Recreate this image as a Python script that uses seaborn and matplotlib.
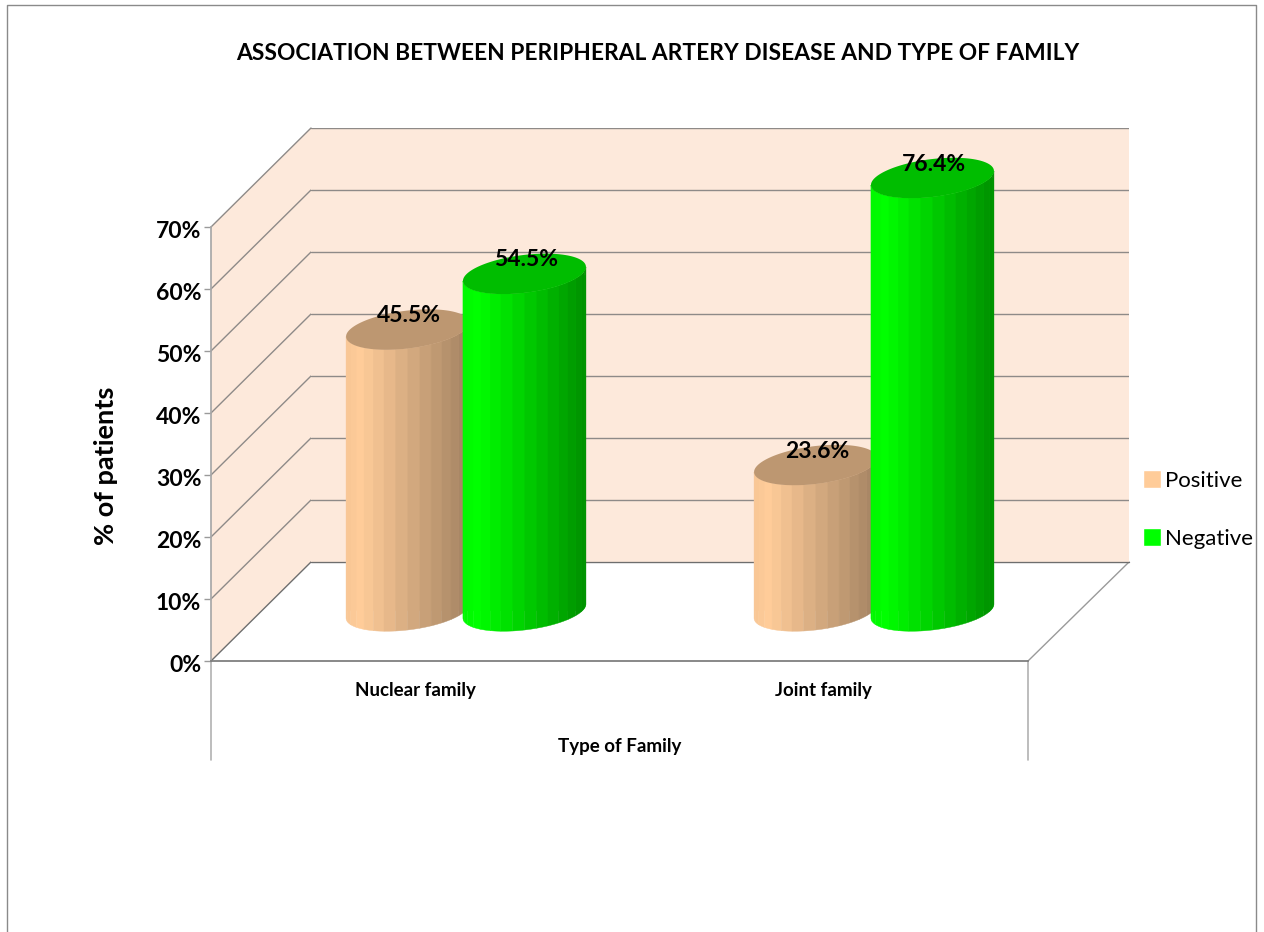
import numpy as np
import pandas as pd
import matplotlib
matplotlib.use("Agg")
import matplotlib.pyplot as plt
from matplotlib.colors import to_rgb
from matplotlib.patches import Polygon
from matplotlib.transforms import ScaledTranslation
import seaborn as sns

categories = ["Nuclear family", "Joint family"]
series_names = ["Positive", "Negative"]
positive = [45.5, 23.6]
negative = [54.5, 76.4]
y_ticks = [0, 10, 20, 30, 40, 50, 60, 70]
title = "ASSOCIATION BETWEEN PERIPHERAL ARTERY DISEASE AND TYPE OF FAMILY"
colors = {"Positive": "#FFCC99", "Negative": "#00FF00"}

W, H = 1264, 932
sns.set_theme(style="white")
plt.rcParams["font.family"] = ["Lato", "Liberation Sans", "DejaVu Sans"]
WALL = "#FDE9DB"
GRID = "#8E8A88"

fig = plt.figure(figsize=(W / 100, H / 100), dpi=100, facecolor="white")


def px_axes(left, right, top, bottom, **kw):
    return fig.add_axes([left / W, 1 - bottom / H, (right - left) / W, (bottom - top) / H], **kw)


# page layer in pixel coordinates: frame of the picture
ax_bg = px_axes(0, W, 0, H)
ax_bg.set_xlim(0, W)
ax_bg.set_ylim(H, 0)
ax_bg.set_axis_off()
ax_bg.plot([7, 7, 1256, 1256], [H, 5, 5, H], color="#8A8A8A", lw=1.0, clip_on=False)

# three parallel planes sharing one scale: back wall, bar plane, front axis
ax_back = px_axes(311, 1129, 128, 562, facecolor=WALL)
ax_front = px_axes(211, 1028, 227, 661, facecolor="none")
ax_bar = px_axes(262, 1078, 178, 611, facecolor="none")
for a in (ax_back, ax_front, ax_bar):
    a.set_ylim(0, 70)
    a.set_xlim(-0.5, 1.5)

# back wall
ax_back.set_yticks(y_ticks)
ax_back.set_xticks([])
ax_back.tick_params(left=False, labelleft=False)
ax_back.grid(axis="y", color=GRID, lw=1.0)
sns.despine(ax=ax_back, left=True, bottom=True, right=True, top=True)


def to_bg(ax, x, y):
    return ax_bg.transData.inverted().transform(ax.transData.transform((x, y)))


# left wall, floor edges
corners = [to_bg(ax_front, -0.5, 0), to_bg(ax_back, -0.5, 0), to_bg(ax_back, -0.5, 70), to_bg(ax_front, -0.5, 70)]
ax_bg.add_patch(Polygon(corners, closed=True, facecolor=WALL, edgecolor="none"))
for t in y_ticks:
    a0, b0 = to_bg(ax_front, -0.5, t), to_bg(ax_back, -0.5, t)
    ax_bg.plot([a0[0], b0[0]], [a0[1], b0[1]], color="#6E6E6E" if t == 0 else GRID, lw=1.0)
r0, r1 = to_bg(ax_front, 1.5, 0), to_bg(ax_back, 1.5, 0)
ax_bg.plot([r0[0], r1[0]], [r0[1], r1[1]], color="#9A9A9A", lw=1.0)
for x_end in (-0.5, 1.5):
    p = to_bg(ax_front, x_end, 0)
    ax_bg.plot([p[0], p[0]], [p[1], 760], color="#B2B2B2", lw=1.2)
b0, b1 = to_bg(ax_back, -0.5, 0), to_bg(ax_back, 1.5, 0)
ax_bg.plot([b0[0], b1[0]], [b0[1], b1[1]], color="#6E6E6E", lw=1.0)

# front axis
ax_front.set_yticks(y_ticks)
ax_front.set_yticklabels([f"{t}%" for t in y_ticks], fontsize=16.5, fontweight="bold", color="black", va="center")
ax_front.set_xticks([0, 1])
ax_front.set_xticklabels(categories, fontsize=13.5, fontweight="bold", color="black")
ax_front.tick_params(axis="y", left=True, length=5, width=1, color="#9A9A9A", pad=2)
ax_front.tick_params(axis="x", bottom=False, pad=9)
nudge = ScaledTranslation(0, -4 / 100, fig.dpi_scale_trans)
for lab in ax_front.get_yticklabels():
    lab.set_transform(lab.get_transform() + nudge)
for s in ("top", "right"):
    ax_front.spines[s].set_visible(False)
ax_front.spines["left"].set_color("#A8A8A8")
ax_front.spines["bottom"].set_color("#7A7A7A")
ax_front.set_xlabel("Type of Family", fontsize=13.5, fontweight="bold", color="black", labelpad=28)
ax_front.set_ylabel("% of patients", fontsize=19.5, fontweight="bold", color="black", labelpad=27, y=0.45)

# bars
df = pd.DataFrame({
    "family": categories * 2,
    "result": [series_names[0]] * 2 + [series_names[1]] * 2,
    "value": positive + negative,
})
sns.barplot(data=df, x="family", y="value", hue="result", hue_order=series_names, palette=colors,
            width=0.573, gap=0, saturation=1, errorbar=None, ax=ax_bar, legend=True)
ax_bar.set_ylim(0, 70)
ax_bar.set_xlim(-0.5, 1.5)

px_x = 2.0 / (1078 - 262)   # data units per pixel
px_y = 70.0 / (611 - 178)
half_w = 61.5 * px_x
ry = 19 * px_y
shear = 7 * px_y
n_bands = 16


def shade(u, dark):
    return np.interp(u, [0.0, 0.12, 1.0], [0.97, 1.0, dark])


for idx, (name, container) in enumerate(zip(series_names, ax_bar.containers)):
    base = np.array(to_rgb(colors[name]))
    dark = 0.64 if name == "Positive" else 0.56
    for patch, val in zip(container.patches, positive if idx == 0 else negative):
        xc = patch.get_x() + patch.get_width() / 2
        patch.set_x(xc - half_w)
        patch.set_width(2 * half_w)
        top = min(patch.get_height(), ax_bar.get_ylim()[1])
        z = 3 + idx * 2

        ts = np.linspace(np.pi, 2 * np.pi, 200)
        xs = xc + half_w * np.cos(ts)
        low = shear * np.cos(ts) + ry * np.sin(ts)
        outline = np.r_[np.c_[xs, low], np.c_[xs[::-1], top + low[::-1]]]
        patch.set_zorder(z)
        patch.set_clip_path(Polygon(outline, transform=ax_bar.transData))
        patch.set_clip_on(True)

        edges = np.linspace(np.pi, 2 * np.pi, n_bands + 1)
        for t0, t1 in zip(edges[:-1], edges[1:]):
            t = np.linspace(t0, t1, 8)
            x = xc + half_w * np.cos(t)
            y = shear * np.cos(t) + ry * np.sin(t)
            u = (np.cos((t0 + t1) / 2) + 1) / 2
            ax_bar.fill(np.r_[x, x[::-1]], np.r_[y, top + y[::-1]], color=base * shade(u, dark),
                        lw=0.3, zorder=z + 0.2, clip_on=False)

        tt = np.linspace(0, 2 * np.pi, 120)
        ax_bar.fill(xc + half_w * np.cos(tt), top + shear * np.cos(tt) + ry * np.sin(tt),
                    color=base * 0.74, lw=0, zorder=z + 0.5, clip_on=False)
        ax_bar.annotate(f"{val:.1f}%", (xc, top), xytext=(1, 10), textcoords="offset points",
                        ha="center", va="center", fontsize=16.5, fontweight="bold", color="black",
                        zorder=20, annotation_clip=False)

sns.move_legend(ax_bar, loc="upper left", bbox_to_anchor=(1143 / W, 1 - 470 / H),
                bbox_transform=fig.transFigure, frameon=False, title=None, fontsize=16,
                handlelength=0.81, handleheight=0.86, labelspacing=1.69, handletextpad=0.2, borderpad=0,
                borderaxespad=0, labelcolor="black")
ax_bar.set_axis_off()

fig.text(658 / W, 1 - 53 / H, title, ha="center", va="center", fontsize=16.4, fontweight="bold", color="black")
fig.savefig("out.png", dpi=100)
